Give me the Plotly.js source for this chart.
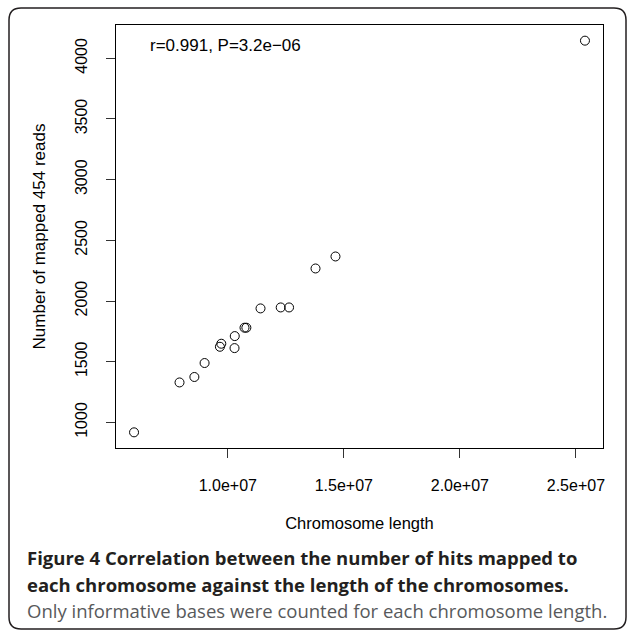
<!DOCTYPE html>
<html>
<head>
<meta charset="utf-8">
<script src="https://cdn.plot.ly/plotly-3.0.1.min.js"></script>
<style>
  html, body { margin: 0; padding: 0; background: #ffffff; }
  #chart { width: 627px; height: 630px; }
</style>
</head>
<body>
<div id="chart"></div>
<script>
// ---- data ----
const chromosomeLength = [5.96e6, 7.92e6, 8.56e6, 9.00e6, 9.66e6, 9.72e6, 1.029e7, 1.030e7,
                          1.072e7, 1.080e7, 1.141e7, 1.228e7, 1.264e7, 1.378e7, 1.464e7, 2.539e7];
const mappedReads = [918, 1329, 1374, 1489, 1623, 1648, 1612, 1711,
                     1780, 1780, 1939, 1947, 1947, 2268, 2367, 4145];

const xTickValues = [1.0e7, 1.5e7, 2.0e7, 2.5e7];
const xTickLabels = ["1.0e+07", "1.5e+07", "2.0e+07", "2.5e+07"];
const yTickValues = [1000, 1500, 2000, 2500, 3000, 3500, 4000];
const yTickLabels = ["1000", "1500", "2000", "2500", "3000", "3500", "4000"];

const xTitle = "Chromosome length";
const yTitle = "Number of mapped 454 reads";
const statText = "r=0.991, P=3.2e\u221206";
const captionLine1 = "Figure 4 Correlation between the number of hits mapped to";
const captionLine2 = "each chromosome against the length of the chromosomes.";
const captionLine3 = "Only informative bases were counted for each chromosome length.";

// R-style axis range (4% padding)
function rRange(v) {
  const mn = Math.min(...v), mx = Math.max(...v), p = 0.04 * (mx - mn);
  return [mn - p, mx + p];
}

// ---- layout geometry (pixels) ----
const W = 627, H = 630;
const M = { l: 116, r: 24, t: 25, b: 182 };
const PW = W - M.l - M.r, PH = H - M.t - M.b;
function px(x) { return (x - M.l) / PW; }
function py(y) { return (H - M.b - y) / PH; }

// rounded frame round the figure
const fx0 = 9, fy0 = 8, fx1 = 626, fy1 = 629, fr = 12;
function P(x, y) { return px(x) + "," + py(y); }
const framePath =
  "M" + P(fx0 + fr, fy0) + " L" + P(fx1 - fr, fy0) + " Q" + P(fx1, fy0) + " " + P(fx1, fy0 + fr) +
  " L" + P(fx1, fy1 - fr) + " Q" + P(fx1, fy1) + " " + P(fx1 - fr, fy1) +
  " L" + P(fx0 + fr, fy1) + " Q" + P(fx0, fy1) + " " + P(fx0, fy1 - fr) +
  " L" + P(fx0, fy0 + fr) + " Q" + P(fx0, fy0) + " " + P(fx0 + fr, fy0) + " Z";

const rFont = "Liberation Sans, Arial, sans-serif";
const capFont = "Open Sans, sans-serif";

const trace = {
  type: "scatter",
  mode: "markers",
  x: chromosomeLength,
  y: mappedReads,
  marker: { symbol: "circle-open", size: 9, color: "#000000", line: { width: 1, color: "#000000" } },
  cliponaxis: false,
  hoverinfo: "skip"
};

const axisCommon = {
  showgrid: false, zeroline: false,
  showline: true, linecolor: "#000000", linewidth: 1, mirror: true,
  ticks: "outside", ticklen: 9, tickwidth: 1, tickcolor: "#333333",
  tickfont: { family: rFont, size: 16, color: "#000000" },
  tickmode: "array", fixedrange: true
};

const layout = {
  width: W, height: H,
  margin: M,
  paper_bgcolor: "#ffffff",
  plot_bgcolor: "#ffffff",
  showlegend: false,
  xaxis: Object.assign({}, axisCommon, {
    range: rRange(chromosomeLength),
    tickvals: xTickValues, ticktext: xTickLabels,
    ticklabelstandoff: 14,
    title: { text: xTitle, font: { family: rFont, size: 16.5, color: "#000000" }, standoff: 24 }
  }),
  yaxis: Object.assign({}, axisCommon, {
    range: rRange(mappedReads),
    tickvals: yTickValues, ticktext: yTickLabels,
    tickangle: -90,
    ticklabelstandoff: 13,
    title: { text: yTitle, font: { family: rFont, size: 17, color: "#000000" }, standoff: 22 }
  }),
  shapes: [
    { type: "path", xref: "paper", yref: "paper", path: framePath,
      line: { color: "#231f20", width: 1.5 }, fillcolor: "rgba(0,0,0,0)", layer: "above" }
  ],
  annotations: [
    { xref: "paper", yref: "paper", x: px(148), y: py(46), xanchor: "left", yanchor: "middle",
      text: statText, showarrow: false, font: { family: rFont, size: 17, color: "#000000" } },
    { xref: "paper", yref: "paper", x: px(25), y: py(557), xanchor: "left", yanchor: "middle",
      text: "<b>" + captionLine1 + "</b>", showarrow: false,
      font: { family: capFont, size: 18.5, color: "#231f20" } },
    { xref: "paper", yref: "paper", x: px(25), y: py(584), xanchor: "left", yanchor: "middle",
      text: "<b>" + captionLine2 + "</b>", showarrow: false,
      font: { family: capFont, size: 18.5, color: "#231f20" } },
    { xref: "paper", yref: "paper", x: px(25), y: py(610), xanchor: "left", yanchor: "middle",
      text: captionLine3, showarrow: false,
      font: { family: capFont, size: 18.5, color: "#58595b" } }
  ]
};

Plotly.newPlot("chart", [trace], layout, { displayModeBar: false, staticPlot: true });
</script>
</body>
</html>
